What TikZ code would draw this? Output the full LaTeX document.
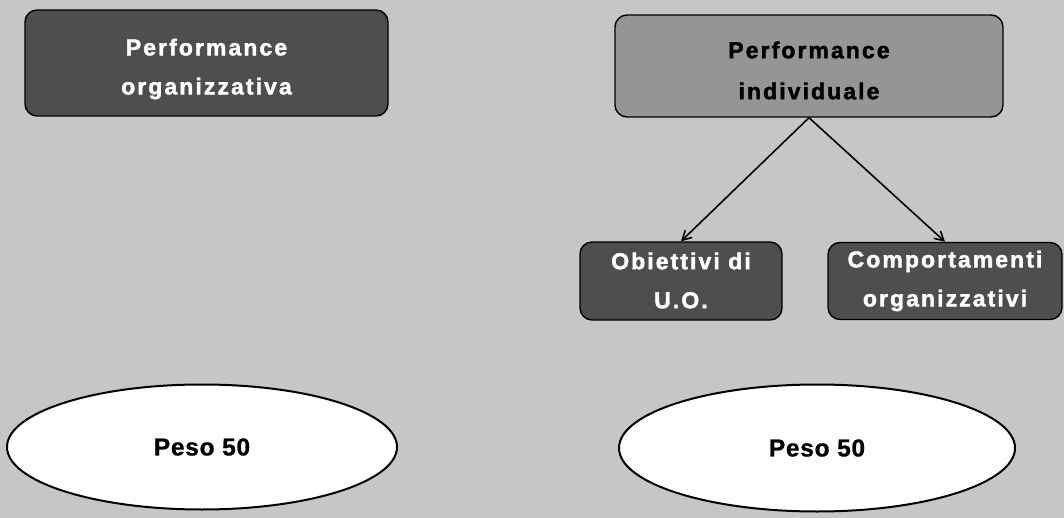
\documentclass[tikz,border=0pt]{standalone}
\usepackage{fontspec}
\setmainfont{Liberation Sans}
\newfontfamily\boxfont[FakeBold=1.8,LetterSpace=9]{Liberation Sans Bold}
\newfontfamily\weightfont[FakeBold=0.8,LetterSpace=3]{Liberation Sans Bold}
\usetikzlibrary{shapes.geometric,arrows.meta}
\definecolor{paper}{HTML}{C6C6C6}
\definecolor{darkbox}{HTML}{4E4E4E}
\definecolor{lightbox}{HTML}{959595}
\tikzset{
  box/.style={draw=black, line width=1.4pt, rounded corners=12pt, inner sep=0pt},
  darkb/.style={box, fill=darkbox},
  lightb/.style={box, fill=lightbox},
  boxtext/.style={align=center, inner sep=0pt, font=\boxfont\fontsize{23}{39}\selectfont},
  weight/.style={ellipse, draw=black, line width=2pt, fill=white, inner sep=0pt,
    font=\weightfont\fontsize{24.5}{30}\selectfont},
  link/.style={draw=black, line width=1.6pt, -{Straight Barb[length=9pt,width=10pt]}}
}
\begin{document}
\begin{tikzpicture}[x=1pt,y=-1pt]
  \fill[paper] (0,0) rectangle (1064,518);
  \useasboundingbox (0,0) rectangle (1064,518);

  % top row
  \node[darkb, minimum width=363pt, minimum height=106pt] (pOrg) at (206.5,63) {};
  \node[boxtext, text=white] (pOrgT) at (206.5,69) {Performance\\organizzativa};
  \node[lightb, minimum width=388pt, minimum height=102pt] (pInd) at (809,66) {};
  \node[boxtext, text=black, font=\boxfont\fontsize{23}{41}\selectfont] (pIndT) at (809,70.5)
    {Performance\\individuale};

  % components of individual performance
  \node[darkb, minimum width=202pt, minimum height=78pt] (obj) at (681,281) {};
  \node[boxtext, text=white] (objT) at (681,280.5) {Obiettivi di\\U.O.};
  \node[darkb, minimum width=234pt, minimum height=77pt] (comp) at (945,281) {};
  \node[boxtext, text=white] (compT) at (945,281) {Comportamenti\\organizzativi};

  \draw[link] (pInd.south) -- (obj.north);
  \draw[link] (pInd.south) -- (comp.north);

  % weights
  \node[weight, minimum width=390pt, minimum height=125pt] (w1) at (202,447) {Peso 50};
  \node[weight, minimum width=396pt, minimum height=127pt] (w2) at (817,448) {Peso 50};
\end{tikzpicture}
\end{document}
